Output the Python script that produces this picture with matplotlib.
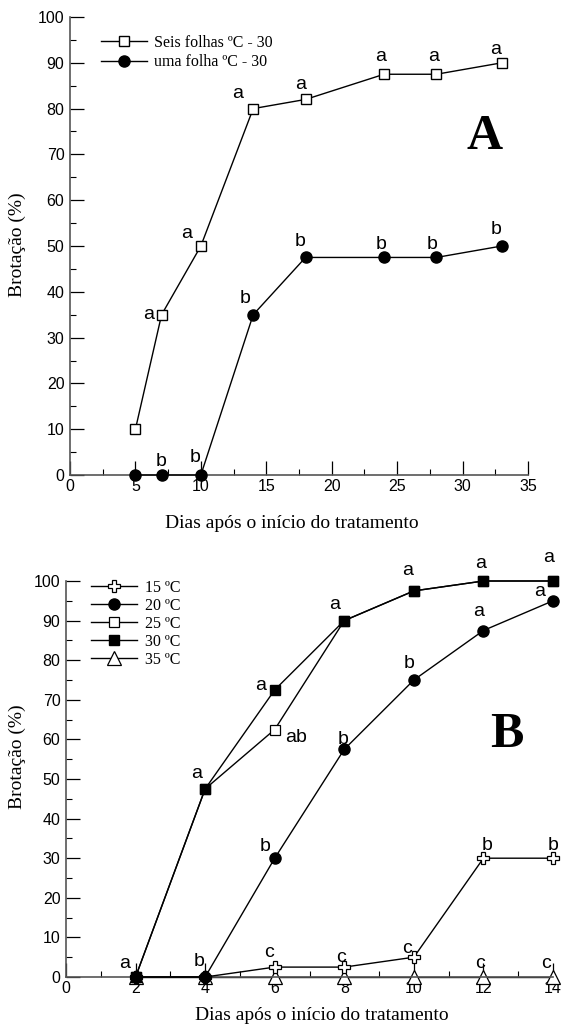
import numpy as np
import matplotlib.pyplot as plt
from matplotlib.ticker import MultipleLocator

# ---- panel A data ----
dias_a = [5, 7, 10, 14, 18, 24, 28, 33]
seis_folhas = [10, 35, 50, 80, 82, 87.5, 87.5, 90]
uma_folha = [0, 0, 0, 35, 47.5, 47.5, 47.5, 50]
letras_seis = ['', 'a', 'a', 'a', 'a', 'a', 'a', 'a']
letras_uma = ['', 'b', 'b', 'b', 'b', 'b', 'b', 'b']

# ---- panel B data ----
dias_b = [2, 4, 6, 8, 10, 12, 14]
t15 = [0, 0, 2.5, 2.5, 5, 30, 30]
t20 = [0, 0, 30, 57.5, 75, 87.5, 95]
t25 = [0, 47.5, 62.5, 90, 97.5, 100, 100]
t30 = [0, 47.5, 72.5, 90, 97.5, 100, 100]
t35 = [0, 0, 0, 0, 0, 0, 0]
letras_15 = ['', 'b', 'c', 'c', 'c', 'b', 'b']
letras_20 = ['', '', 'b', 'b', 'b', 'a', 'a']
letras_25 = ['', '', 'ab', '', '', '', '']
letras_30 = ['a', 'a', 'a', 'a', 'a', 'a', 'a']
letras_35 = ['', '', '', '', '', 'c', 'c']

# letter offsets in pixels (dx, dy) from the marker
off_seis = [(0, 0), (-13, 0), (-14, 12), (-16, 15), (-5, 15), (-3, 18), (-3, 18), (-6, 13)]
off_uma = [(0, 0), (0, 14), (-6, 17), (-8, 16), (-5, 16), (-3, 13), (-4, 13), (-6, 16)]
off_15 = [(0, 0), (-6, 15), (-6, 15), (-3, 10), (-7, 9), (4, 13), (0, 13)]
off_20 = [(0, 0), (0, 0), (-10, 12), (-1, 10), (-5, 16), (-5, 19), (-13, 9)]
off_25 = [(0, 0), (0, 0), (21, -8), (0, 0), (0, 0), (0, 0), (0, 0)]
off_30 = [(-11, 14), (-9, 15), (-14, 4), (-10, 16), (-6, 20), (-3, 18), (-4, 24)]
off_35 = [(0, 0), (0, 0), (0, 0), (0, 0), (0, 0), (-3, 14), (-7, 14)]

serif = 'Liberation Serif'
sans = 'Liberation Sans'
plt.rcParams['font.family'] = sans

W, H = 565, 1028
fig = plt.figure(figsize=(W / 100, H / 100), dpi=100)


def px_axes(l, r, b, t):
    return fig.add_axes([l / W, 1 - b / H, (r - l) / W, (b - t) / H])


def style(ax, xmax, xmaj, xmin):
    for s in ['top', 'right']:
        ax.spines[s].set_visible(False)
    for s in ['left', 'bottom']:
        ax.spines[s].set_color('#555555')
        ax.spines[s].set_linewidth(1.2)
    ax.set_xlim(0, xmax)
    ax.set_ylim(0, 100)
    ax.xaxis.set_major_locator(MultipleLocator(xmaj))
    ax.xaxis.set_minor_locator(MultipleLocator(xmin))
    ax.yaxis.set_major_locator(MultipleLocator(10))
    ax.yaxis.set_minor_locator(MultipleLocator(5))
    ax.tick_params(which='major', direction='in', length=10, width=0.9, labelsize=11.5)
    ax.tick_params(which='minor', direction='in', length=4, width=0.8)
    ax.tick_params(axis='x', which='major', pad=3)
    ax.tick_params(axis='y', which='major', pad=4)


def letras(ax, xs, ys, labels, offs):
    for x, y, t, o in zip(xs, ys, labels, offs):
        if t:
            ax.annotate(t, (x, y), xytext=o, textcoords='offset pixels',
                        ha='center', va='center', fontsize=14, family=sans,
                        annotation_clip=False)


# ---------------- Panel A ----------------
axA = px_axes(70, 528, 475, 17)
style(axA, 35, 5, 2.5)
lw = 1.0
axA.plot(dias_a, seis_folhas, '-', color='black', lw=lw, marker='s', ms=7,
         mfc='white', mec='black', mew=1.0, clip_on=False, label='Seis folhas ºC - 30', zorder=3)
axA.plot(dias_a, uma_folha, '-', color='black', lw=lw, marker='o', ms=8,
         mfc='black', mec='black', clip_on=False, label='uma folha ºC - 30', zorder=4)
letras(axA, dias_a, seis_folhas, letras_seis, off_seis)
letras(axA, dias_a, uma_folha, letras_uma, off_uma)
axA.legend(loc='upper left', bbox_to_anchor=(101 / W, 1 - 35 / H),
           bbox_transform=fig.transFigure, frameon=False,
           prop={'family': serif, 'size': 11.5}, handlelength=2.9,
           handletextpad=0.4, labelspacing=0.2, borderpad=0, borderaxespad=0)
fig.text(485 / W, 1 - 137 / H, 'A', family=serif, weight='bold', fontsize=36,
         ha='center', va='center')
fig.text(17 / W, 1 - 245 / H, 'Brotação (%)', family=serif, fontsize=14,
         rotation=90, ha='center', va='center')
fig.text(292 / W, 1 - 523 / H, 'Dias após o início do tratamento', family=serif,
         fontsize=14, ha='center', va='center')

# ---------------- Panel B ----------------
axB = px_axes(66, 553, 977, 581)
style(axB, 14, 2, 1)
axB.plot(dias_b, t15, '-', color='black', lw=lw, marker='P', ms=8, mfc='white',
         mec='black', mew=0.9, clip_on=False, label='15 ºC', zorder=3)
axB.plot(dias_b, t20, '-', color='black', lw=lw, marker='o', ms=8, mfc='black',
         mec='black', clip_on=False, label='20 ºC', zorder=4)
axB.plot(dias_b, t25, '-', color='black', lw=lw, marker='s', ms=7, mfc='white',
         mec='black', mew=0.9, clip_on=False, label='25 ºC', zorder=3)
axB.plot(dias_b, t30, '-', color='black', lw=lw, marker='s', ms=7, mfc='black',
         mec='black', clip_on=False, label='30 ºC', zorder=4)
axB.plot(dias_b, t35, '-', color='black', lw=lw, marker='^', ms=10, mfc='white',
         mec='black', mew=0.9, clip_on=False, label='35 ºC', zorder=2)
letras(axB, dias_b, t15, letras_15, off_15)
letras(axB, dias_b, t20, letras_20, off_20)
letras(axB, dias_b, t25, letras_25, off_25)
letras(axB, dias_b, t30, letras_30, off_30)
letras(axB, dias_b, t35, letras_35, off_35)
axB.legend(loc='upper left', bbox_to_anchor=(91 / W, 1 - 580 / H),
           bbox_transform=fig.transFigure, frameon=False,
           prop={'family': serif, 'size': 11.5}, handlelength=2.9,
           handletextpad=0.5, labelspacing=0.12, borderpad=0, borderaxespad=0)
fig.text(507 / W, 1 - 735 / H, 'B', family=serif, weight='bold', fontsize=36,
         ha='center', va='center')
fig.text(17 / W, 1 - 757 / H, 'Brotação (%)', family=serif, fontsize=14,
         rotation=90, ha='center', va='center')
fig.text(322 / W, 1 - 1015 / H, 'Dias após o início do tratamento', family=serif,
         fontsize=14, ha='center', va='center')

fig.savefig('out.png', dpi=100)
